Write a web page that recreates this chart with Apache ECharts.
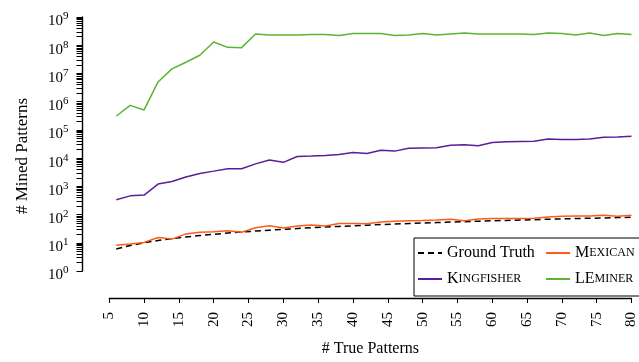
<!DOCTYPE html>
<html>
<head>
<meta charset="utf-8">
<script src="https://cdn.jsdelivr.net/npm/echarts@6/dist/echarts.min.js"></script>
<style>html,body{margin:0;padding:0;background:#fff;}#c{width:639px;height:362px;}</style>
</head>
<body>
<div id="c"></div>
<script>
const xValues = [6,8,10,12,14,16,18,20,22,24,26,28,30,32,34,36,38,40,42,44,46,48,50,52,54,56,58,60,62,64,66,68,70,72,74,76,78,80];
const groundTruth = [6,8,10,12,14,16,18,20,22,24,26,28,30,32,34,36,38,40,42,44,46,48,50,52,54,56,58,60,62,64,66,68,70,72,74,76,78,80];
const mexican = [8.1,9.1,10.3,15.4,13.5,20.6,23.7,24.8,26.9,23.7,34.1,40,33.3,39,42.3,39,48.4,48.4,46.9,55,58,60,61.5,64.5,68,60,70,72,72,72,74,82,87,89,89,94,87,94];
const kingfisher = [336,460,490,1200,1480,2150,2870,3460,4180,4180,6260,8570,7090,11400,11800,12400,13400,15700,14600,19000,17700,22400,22900,23400,28400,29800,27500,36000,37800,38800,39900,48000,45800,45800,48000,55000,56400,59800];
const leminer = [3.1e5,7.4e5,5.1e5,5.0e6,1.45e7,2.5e7,4.4e7,1.3e8,8.4e7,8.2e7,2.5e8,2.3e8,2.3e8,2.3e8,2.4e8,2.4e8,2.2e8,2.6e8,2.6e8,2.6e8,2.2e8,2.3e8,2.6e8,2.3e8,2.5e8,2.7e8,2.5e8,2.5e8,2.5e8,2.5e8,2.4e8,2.7e8,2.6e8,2.3e8,2.7e8,2.2e8,2.6e8,2.4e8];

const xTickInterval = 5;
const yExponents = [0,1,2,3,4,5,6,7,8,9];
const minorMultipliers = [1,2,3,4,5,6,7,8,9];

const seriesNames = ['Ground Truth','Mexican','Kingfisher','LEminer'];
const legendLabels = {
  'Ground Truth': 'Ground Truth',
  'Mexican': '{c|M}{s|EXICAN}',
  'Kingfisher': '{c|K}{s|INGFISHER}',
  'LEminer': '{c|LE}{s|MINER}'
};

const FONT = 'Liberation Serif';
const tickVals = [];
yExponents.forEach(e => { if (e < 9) minorMultipliers.forEach(m => tickVals.push(m * Math.pow(10, e))); else tickVals.push(Math.pow(10, e)); });

function pairs(arr){ return xValues.map((x,i)=>[x, arr[i]]); }

const chart = echarts.init(document.getElementById('c'), null, {renderer:'canvas'});
chart.setOption({
  animation: false,
  backgroundColor: '#fff',
  grid: {left: 109.3, right: 6.9, top: 17, bottom: 85},
  xAxis: {
    type: 'value', min: 5, max: 80, interval: xTickInterval,
    offset: 27,
    axisLine: {lineStyle: {color: '#000', width: 1.4}},
    axisTick: {length: 5, lineStyle: {color: '#000', width: 1}},
    axisLabel: {rotate: 90, margin: 14, fontFamily: FONT, fontSize: 15, color: '#000'},
    splitLine: {show: false},
    name: '# True Patterns', nameLocation: 'middle', nameGap: 43,
    nameTextStyle: {fontFamily: FONT, fontSize: 16, color: '#000'}
  },
  yAxis: {
    type: 'log', logBase: 10, min: 1, max: 1e9, interval: 1,
    offset: 26.8,
    axisLine: {show: true, lineStyle: {color: '#000', width: 1.4}},
    axisTick: {show: true, length: 6, customValues: tickVals, lineStyle: {color: '#000', width: 1}},
    axisLabel: {
      margin: 14, interval: 0,
      formatter: v => '{b|10}{s|' + Math.round(Math.log10(v)) + '}',
      rich: {
        b: {fontFamily: FONT, fontSize: 15, color: '#000', padding: [9,0,0,0]},
        s: {fontFamily: FONT, fontSize: 11, color: '#000', padding: [0,0,1,0]}
      }
    },
    splitLine: {show: false},
    minorTick: {show: false},
    name: '# Mined Patterns', nameLocation: 'middle', nameGap: 51,
    nameTextStyle: {fontFamily: FONT, fontSize: 17, color: '#000', padding: [0, 24, 0, 0]}
  },
  legend: {
    left: 414, top: 238, width: 218,
    orient: 'horizontal',
    itemWidth: 24, itemHeight: 14, itemGap: 10,
    padding: [7, 5, 9, 3],
    borderColor: '#000', borderWidth: 1, backgroundColor: '#fff',
    itemStyle: {opacity: 0},
    formatter: name => legendLabels[name],
    textStyle: {
      fontFamily: FONT, fontSize: 16, color: '#000', lineHeight: 14,
      rich: {
        c: {fontFamily: FONT, fontSize: 16, color: '#000', lineHeight: 14},
        s: {fontFamily: FONT, fontSize: 12, color: '#000', lineHeight: 14}
      }
    },
    data: [
      {name: 'Ground Truth', textStyle: {width: 88}},
      {name: 'Mexican', textStyle: {width: 60}},
      {name: 'Kingfisher', textStyle: {width: 88}},
      {name: 'LEminer', textStyle: {width: 60}}
    ]
  },
  series: [
    {name: seriesNames[0], type: 'line', data: pairs(groundTruth), showSymbol: false, symbol: 'none',
     lineStyle: {color: '#000', width: 1.5, type: [6,4]}, itemStyle: {color: '#000'}},
    {name: seriesNames[1], type: 'line', data: pairs(mexican), showSymbol: false, symbol: 'none',
     lineStyle: {color: '#ff5b18', width: 1.5}, itemStyle: {color: '#ff5b18'}},
    {name: seriesNames[2], type: 'line', data: pairs(kingfisher), showSymbol: false, symbol: 'none',
     lineStyle: {color: '#5b1d99', width: 1.5}, itemStyle: {color: '#5b1d99'}},
    {name: seriesNames[3], type: 'line', data: pairs(leminer), showSymbol: false, symbol: 'none',
     lineStyle: {color: '#5cb531', width: 1.5}, itemStyle: {color: '#5cb531'}}
  ]
});
</script>
</body>
</html>
